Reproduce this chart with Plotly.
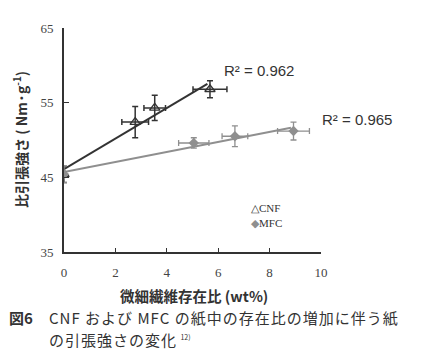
import numpy as np
import plotly.graph_objects as go

# --- data ---
cnf_x = [0.0, 2.77, 3.53, 5.68]
cnf_y = [45.4, 52.4, 54.3, 56.8]
cnf_xerr = [0.0, 0.52, 0.42, 0.66]
cnf_yerr = [1.1, 2.1, 1.7, 1.15]

mfc_x = [0.0, 5.05, 6.65, 8.93]
mfc_y = [45.4, 49.6, 50.5, 51.2]
mfc_xerr = [0.0, 0.59, 0.5, 0.62]
mfc_yerr = [1.1, 0.7, 1.4, 1.2]

r2_labels = ["R² = 0.962", "R² = 0.965"]
legend_labels = ["CNF", "MFC"]
x_ticks = [0, 2, 4, 6, 8, 10]
y_ticks = [35, 45, 55, 65]

CNF_C = "#333333"
MFC_C = "#8f8f8f"

fig = go.Figure()

# regression lines
for xs, ys, col in [(cnf_x, cnf_y, CNF_C), (mfc_x, mfc_y, MFC_C)]:
    k, b = np.polyfit(xs, ys, 1)
    lx = [0, max(xs) - 0.1]
    fig.add_trace(go.Scatter(x=lx, y=[k * v + b for v in lx], mode="lines",
                             line=dict(color=col, width=2), showlegend=False,
                             hoverinfo="skip"))

fig.add_trace(go.Scatter(
    x=cnf_x, y=cnf_y, mode="markers", name=legend_labels[0], showlegend=False,
    marker=dict(symbol="triangle-up-open", size=9, color=CNF_C, line=dict(width=1.3)),
    error_x=dict(type="data", array=cnf_xerr, color=CNF_C, thickness=1.5, width=3),
    error_y=dict(type="data", array=cnf_yerr, color=CNF_C, thickness=1.5, width=3),
))
fig.add_trace(go.Scatter(
    x=mfc_x, y=mfc_y, mode="markers", name=legend_labels[1], showlegend=False,
    marker=dict(symbol="diamond", size=8, color=MFC_C),
    error_x=dict(type="data", array=mfc_xerr, color=MFC_C, thickness=1.3, width=3),
    error_y=dict(type="data", array=mfc_yerr, color=MFC_C, thickness=1.3, width=3),
))

# plot area in reference-pixel coordinates (page has an 8px body margin)
L, T, W, H = 64, 28, 257, 224
OFF = 8
FW, FH = 440 - OFF, 356 - OFF

def px(xp):
    return (xp - L) / W

def py(yp):
    return 1 - (yp - T) / H

SERIF = "Liberation Serif, Times New Roman, serif"
SANS = "Liberation Sans, Arial, sans-serif"
CJK = "Noto Sans CJK JP"
LS = "<span style='letter-spacing:1px'>{}</span>"

ann = [
    dict(x=6.16, y=59.3, xref="x", yref="y", text=r2_labels[0], showarrow=False,
         xanchor="left", yanchor="middle",
         font=dict(family=SANS, size=15, color="#333")),
    dict(x=9.97, y=52.7, xref="x", yref="y", text=r2_labels[1], showarrow=False,
         xanchor="left", yanchor="middle",
         font=dict(family=SANS, size=15, color="#333")),
    # legend
    dict(x=px(249), y=py(208), xref="paper", yref="paper",
         text="△" + legend_labels[0], showarrow=False, xanchor="left", yanchor="middle",
         font=dict(family=SERIF, size=11, color="#333")),
    dict(x=px(249), y=py(223), xref="paper", yref="paper",
         text="<span style='color:#8f8f8f'>◆</span>" + legend_labels[1], showarrow=False,
         xanchor="left", yanchor="middle",
         font=dict(family=SERIF, size=11, color="#333")),
    # axis titles
    dict(x=px(194), y=py(295), xref="paper", yref="paper",
         text="<b>微細繊維存在比 (wt%)</b>", showarrow=False,
         xanchor="center", yanchor="middle",
         font=dict(family=CJK, size=14.5, color="#333")),
    dict(x=px(20), y=py(140), xref="paper", yref="paper",
         text="<b>比引張強さ ( Nm·g<sup>-1</sup>)</b>", showarrow=False, textangle=-90,
         xanchor="center", yanchor="middle",
         font=dict(family=CJK, size=14, color="#333")),
    # caption
    dict(x=px(7), y=py(317), xref="paper", yref="paper",
         text="<b>図6</b>", showarrow=False, xanchor="left", yanchor="middle",
         font=dict(family=CJK, size=15, color="#333")),
    dict(x=px(47), y=py(317), xref="paper", yref="paper",
         text=LS.format("CNF および MFC の紙中の存在比の増加に伴う紙"), showarrow=False,
         xanchor="left", yanchor="middle",
         font=dict(family=CJK, size=15, color="#333")),
    dict(x=px(47), y=py(339), xref="paper", yref="paper",
         text=LS.format("の引張強さの変化") + " <sup><span style='font-size:7px'>12)</span></sup>",
         showarrow=False, xanchor="left", yanchor="middle",
         font=dict(family=CJK, size=15, color="#333")),
]

fig.update_layout(
    width=FW, height=FH,
    margin=dict(l=L - OFF, r=440 - L - W, t=T - OFF, b=356 - T - H),
    paper_bgcolor="white", plot_bgcolor="white",
    showlegend=False,
    annotations=ann,
    xaxis=dict(range=[0, 10], tickvals=x_ticks, showgrid=False, zeroline=False,
               showline=True, linecolor="#333", linewidth=1.5,
               ticks="inside", ticklen=4, tickcolor="#333", ticklabelstandoff=8,
               tickfont=dict(family=SERIF, size=13, color="#444")),
    yaxis=dict(range=[35, 65], tickvals=y_ticks, showgrid=False, zeroline=False,
               showline=True, linecolor="#333", linewidth=2,
               ticks="inside", ticklen=5, tickcolor="#333", ticklabelstandoff=6,
               tickfont=dict(family=SERIF, size=13, color="#444")),
)

fig.write_html("out.html")
